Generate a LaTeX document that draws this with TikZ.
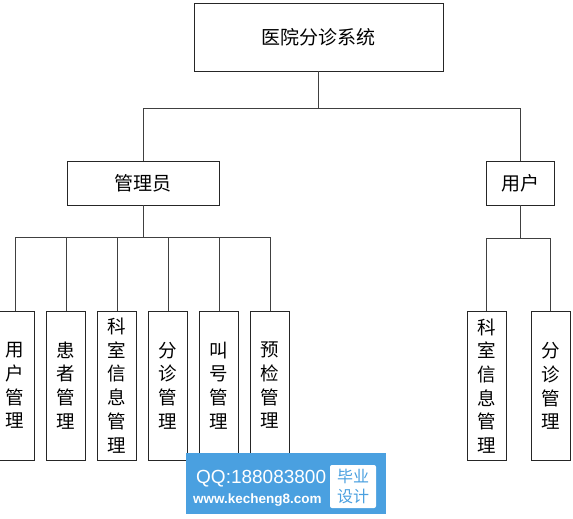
\documentclass[tikz,border=0pt]{standalone}
\usepackage{fontspec}
\newfontfamily\cjk{Noto Sans CJK SC}
\newfontfamily\lat{Liberation Sans}
\definecolor{wmblue}{RGB}{74,160,224}
\begin{document}
\begin{tikzpicture}[x=1pt,y=-1pt,
  box/.style={draw=black!85, line width=0.8pt, rectangle, inner sep=0pt, fill=white,
    font=\cjk\fontsize{19}{19}\selectfont},
  leaf/.style={box, minimum width=39pt, minimum height=149pt, align=center,
    font=\cjk\fontsize{18.5}{23.7}\selectfont},
  conn/.style={draw=black!75, line width=0.8pt}]
\useasboundingbox (0,0) rectangle (573,519);
% boxes
\node[box, minimum width=249pt, minimum height=68pt] (top) at (318.5,37) {医院分诊系统};
\node[box, minimum width=152pt, minimum height=44pt] (admin) at (143,183) {管理员};
\node[box, minimum width=68pt, minimum height=44pt] (user) at (520,183) {用户};
\node[leaf] (a1) at (15,385.5) {用\\户\\管\\理};
\node[leaf] (a2) at (66,385.5) {患\\者\\管\\理};
\node[leaf] (a3) at (117,385.5) {科\\室\\信\\息\\管\\理};
\node[leaf] (a4) at (168,385.5) {分\\诊\\管\\理};
\node[leaf] (a5) at (219,385.5) {叫\\号\\管\\理};
\node[leaf] (a6) at (270,385.5) {预\\检\\管\\理};
\node[leaf] (u1) at (486.5,386) {科\\室\\信\\息\\管\\理};
\node[leaf] (u2) at (550.5,386) {分\\诊\\管\\理};
% bus points
\coordinate (b1) at (318.5,108);
\coordinate (b2) at (143,237);
\coordinate (b3) at (520,238);
% connectors
\draw[conn] (top.south) -- (b1);
\draw[conn] (admin.north) |- (b1);
\draw[conn] (user.north) |- (b1);
\draw[conn] (admin.south) -- (b2);
\foreach \n in {a1,a2,a3,a4,a5,a6} {\draw[conn] (\n.north) |- (b2);}
\draw[conn] (user.south) -- (b3);
\foreach \n in {u1,u2} {\draw[conn] (\n.north) |- (b3);}
% watermark
\node[fill=wmblue, inner sep=0pt, minimum width=200pt, minimum height=61pt] (wm) at (286,483) {};
\node[anchor=base west, inner sep=0pt, text=white, font=\lat\fontsize{19}{19}\selectfont] (qq) at (196,483) {QQ:188083800};
\node[anchor=base west, inner sep=0pt, text=white, font=\lat\bfseries\fontsize{13.5}{13.5}\selectfont] (web) at (193,503) {www.kecheng8.com};
\node[fill=white, rounded corners=2pt, inner sep=0pt, minimum width=46pt, minimum height=43pt,
  align=center, text=wmblue, font=\cjk\fontsize{16}{20}\selectfont] (bysj) at (353,486.5) {毕业\\设计};
\end{tikzpicture}
\end{document}
